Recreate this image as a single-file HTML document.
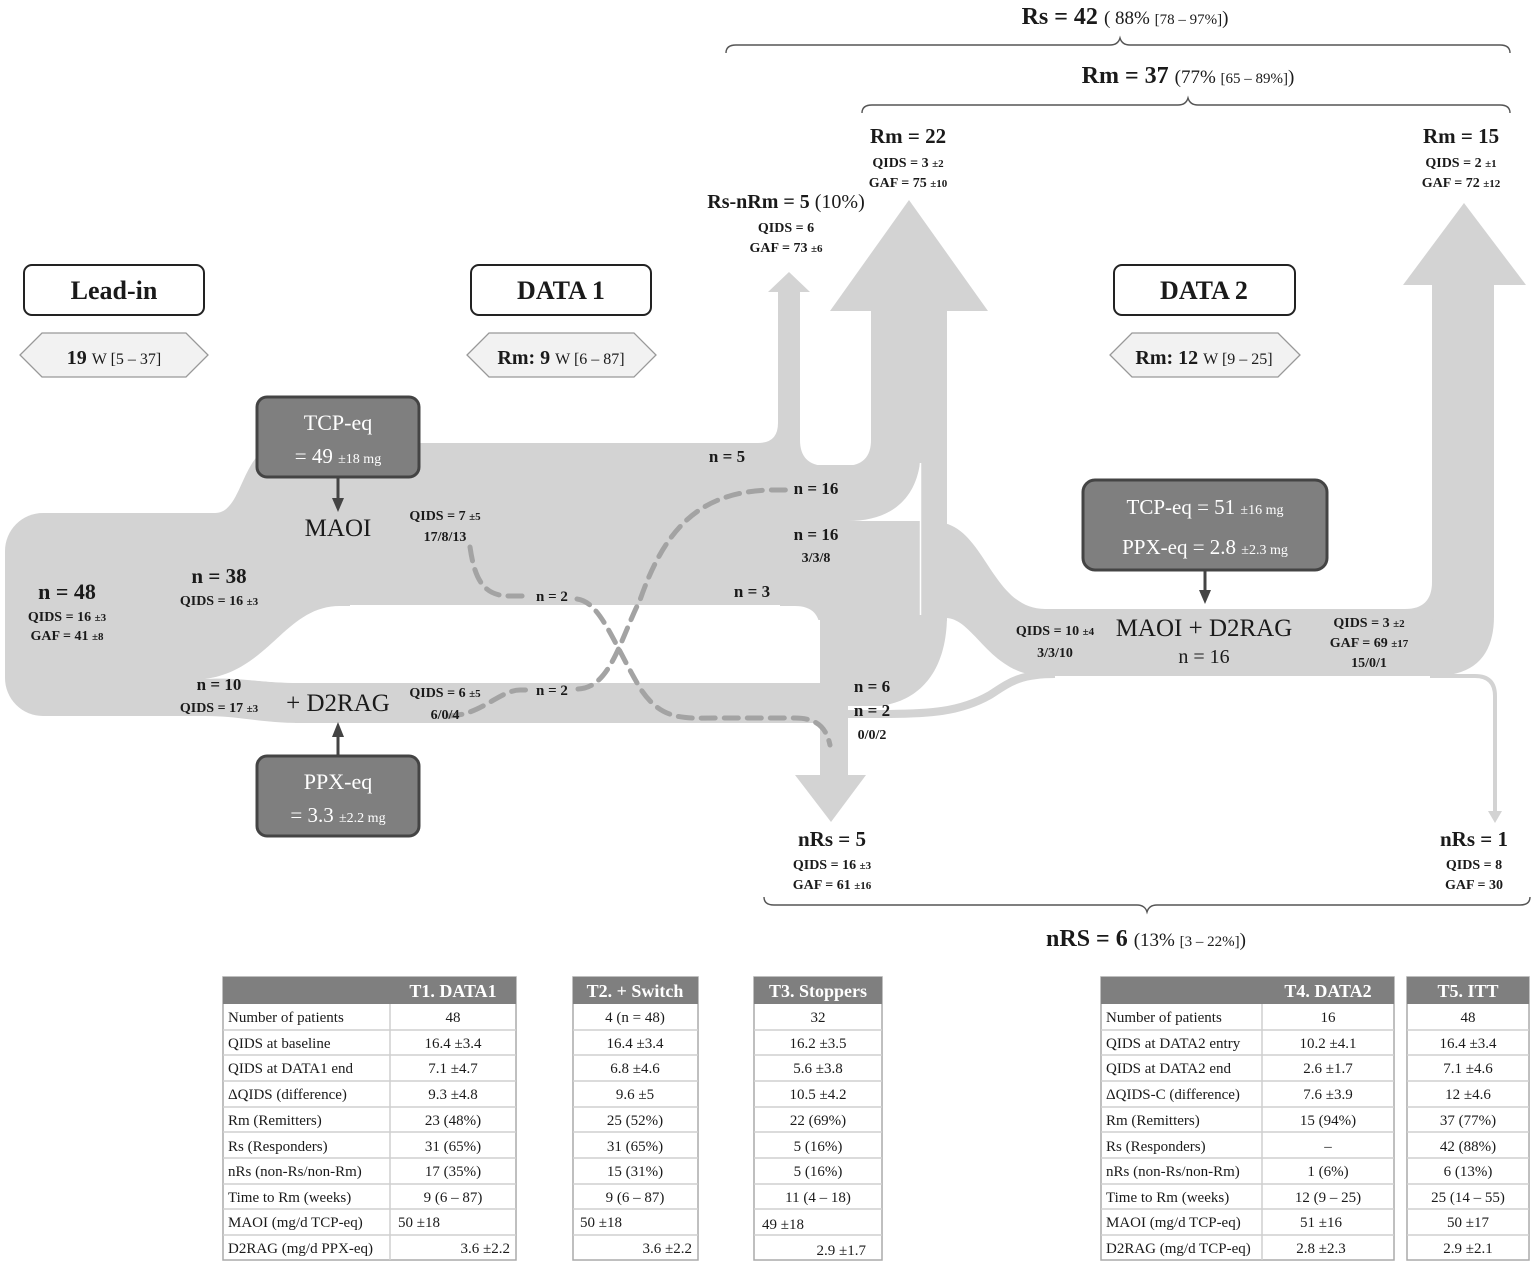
<!DOCTYPE html>
<html><head><meta charset="utf-8">
<style>
html,body{margin:0;padding:0;background:#fff}
svg{display:block}
text{font-family:"Liberation Serif",serif;fill:#1a1a1a}
.b{font-weight:bold}
.q{font-size:14px;text-anchor:middle}
.n{font-size:17px;font-weight:bold;text-anchor:middle}
.h{font-size:21px;font-weight:bold;text-anchor:middle}
.s{font-size:11px}
.t{font-size:15px}
.tc{font-size:15px;text-anchor:middle}
.th{font-size:18px;font-weight:bold;fill:#fff;text-anchor:middle}
.w{fill:#fff;text-anchor:middle}
</style></head>
<body>
<svg width="1535" height="1266" viewBox="0 0 1535 1266" xmlns="http://www.w3.org/2000/svg">
<g fill="#d3d3d3">
 <rect x="5" y="513" width="240" height="203" rx="38"/>
 <rect x="150" y="540" width="200" height="140"/>
 <path d="M150,513 L215,513 C245,513 240,443 285,443 L285,560 L150,560 Z"/>
 <rect x="270" y="443" width="530" height="162"/>
 <path d="M205,716 L205,677 C240,677 260,683 300,683 L300,723 C260,723 240,716 205,716 Z"/>
 <rect x="295" y="683" width="553" height="40"/>
 <path d="M758,443 Q778,443 778,423 V445 Z"/>
 <rect x="778" y="292" width="22" height="170"/>
 <polygon points="768,292 810,292 789,272"/>
 <rect x="800" y="465" width="71" height="140"/>
 <path d="M800,440 V466 H825 Q800,465 800,440 Z"/>
 <path d="M871,440 V466 H846 Q871,465 871,440 Z"/>
 <rect x="871" y="311" width="76" height="310"/>
 <polygon points="830,311 988,311 909,200"/>
 <path d="M790,581 H823 Q848,581 848,606 V620 H790 Z"/>
 <rect x="820" y="600" width="28" height="176"/>
 <polygon points="795,775 866,775 831,822"/>
 <path d="M848,578 H947 V615 C947,665 925,700 880,706 L848,706 Z"/>
 <path d="M780,522 H935 C985,522 990,609 1045,609 H1440 V676 H1045 C990,676 975,620 947,618 H780 Z"/>
 <path d="M1432,609 V285 H1494 V616 Q1494,676 1434,676 Z"/>
 <path d="M1405,609 Q1432,609 1432,582 V609 Z"/>
 <polygon points="1403,285 1526,285 1464,203"/>
</g>
<!-- hole -->
<path d="M340,606 H795 Q820,606 820,631 V683 H300 C260,683 240,677 205,679 C270,670 285,606 340,606 Z" fill="#fff"/>
<path d="M848,521 C890,521 915,500 920,463 L921,521 Z" fill="#fff"/>
<line x1="920.5" y1="463" x2="920.5" y2="615" stroke="#fff" stroke-width="1.5"/>
<!-- thin flows -->
<path d="M848,714 H880 C930,714 960,712 990,695 C1010,682 1020,674 1055,674" fill="none" stroke="#d3d3d3" stroke-width="8"/>
<path d="M1430,676 H1475 Q1495,676 1495,696 V812" fill="none" stroke="#d3d3d3" stroke-width="4"/>
<polygon points="1488,811 1502,811 1495,823" fill="#d3d3d3"/>
<!-- dashed -->
<g fill="none" stroke="#a3a3a3" stroke-width="5" stroke-dasharray="14 9" stroke-linecap="round">
 <path d="M470,547 C475,582 485,596 510,596 L528,596"/>
 <path d="M577,599 C600,602 612,640 640,688 C662,722 685,718 720,718 L795,718 C815,718 826,726 830,745"/>
 <path d="M448,716 C480,716 500,690 520,690 L530,690"/>
 <path d="M578,689 C610,688 620,640 640,600 C665,528 700,492 770,490 L786,490"/>
</g>
<!-- braces -->
<g fill="none" stroke="#555" stroke-width="1.4">
 <path d="M726,53 Q726,45 736,45 H1110 Q1118,45 1120,38 Q1122,45 1130,45 H1500 Q1510,45 1510,53"/>
 <path d="M862,113 Q862,105 872,105 H1178 Q1186,105 1188,98 Q1190,105 1198,105 H1500 Q1510,105 1510,113"/>
 <path d="M764,897 Q764,905 774,905 H1137 Q1145,905 1147,912 Q1149,905 1157,905 H1520 Q1530,905 1530,897"/>
</g>
<!-- phase boxes -->
<g fill="#fff" stroke="#222" stroke-width="2">
 <rect x="24" y="265" width="180" height="50" rx="8"/>
 <rect x="471" y="265" width="180" height="50" rx="8"/>
 <rect x="1114" y="265" width="181" height="50" rx="8"/>
</g>
<text x="114" y="299" class="h" style="font-size:26px">Lead-in</text>
<text x="561" y="299" class="h" style="font-size:26px">DATA 1</text>
<text x="1204" y="299" class="h" style="font-size:26px">DATA 2</text>
<g fill="#f2f2f2" stroke="#999" stroke-width="1.3">
 <polygon points="42,333 186,333 208,355 186,377 42,377 20,355"/>
 <polygon points="489,333 634,333 656,355 634,377 489,377 467,355"/>
 <polygon points="1132,333 1278,333 1300,355 1278,377 1132,377 1110,355"/>
</g>
<text x="114" y="364" class="h" style="font-size:20px">19 <tspan style="font-size:16px;font-weight:normal">W [5 – 37]</tspan></text>
<text x="561" y="364" class="h" style="font-size:20px">Rm: 9 <tspan style="font-size:16px;font-weight:normal">W [6 – 87]</tspan></text>
<text x="1204" y="364" class="h" style="font-size:20px">Rm: 12 <tspan style="font-size:16px;font-weight:normal">W [9 – 25]</tspan></text>
<!-- dose boxes -->
<g fill="#7f7f7f" stroke="#444" stroke-width="3">
 <rect x="257" y="397" width="162" height="80" rx="10"/>
 <rect x="257" y="756" width="162" height="80" rx="10"/>
 <rect x="1083" y="480" width="244" height="90" rx="12"/>
</g>
<text x="338" y="430" class="w" style="font-size:22px">TCP-eq</text>
<text x="338" y="463" class="w" style="font-size:21px">= 49 <tspan style="font-size:14px">±18 mg</tspan></text>
<text x="338" y="789" class="w" style="font-size:22px">PPX-eq</text>
<text x="338" y="822" class="w" style="font-size:21px">= 3.3 <tspan style="font-size:14px">±2.2 mg</tspan></text>
<text x="1205" y="514" class="w" style="font-size:21px">TCP-eq = 51 <tspan style="font-size:14px">±16 mg</tspan></text>
<text x="1205" y="554" class="w" style="font-size:21px">PPX-eq = 2.8 <tspan style="font-size:14px">±2.3 mg</tspan></text>
<g stroke="#444" stroke-width="3" fill="#444">
 <line x1="338" y1="478" x2="338" y2="500"/><polygon points="332,498 344,498 338,512" stroke="none"/>
 <line x1="338" y1="755" x2="338" y2="735"/><polygon points="332,737 344,737 338,722" stroke="none"/>
 <line x1="1205" y1="571" x2="1205" y2="592"/><polygon points="1199,590 1211,590 1205,604" stroke="none"/>
</g>
<text x="338" y="536" class="h" style="font-size:25px;font-weight:normal">MAOI</text>
<text x="338" y="711" class="h" style="font-size:25px;font-weight:normal">+ D2RAG</text>
<text x="1204" y="636" class="h" style="font-size:25px;font-weight:normal">MAOI + D2RAG</text>
<text x="1204" y="663" class="n" style="font-size:20px;font-weight:normal">n = 16</text>
<!-- headline labels -->
<text x="1125" y="24" class="h" style="font-size:24px">Rs = 42 <tspan style="font-size:19px;font-weight:normal">( 88% <tspan style="font-size:15px">[78 – 97%]</tspan>)</tspan></text>
<text x="1188" y="83" class="h" style="font-size:24px">Rm = 37 <tspan style="font-size:19px;font-weight:normal">(77% <tspan style="font-size:15px">[65 – 89%]</tspan>)</tspan></text>
<text x="1146" y="946" class="h" style="font-size:24px">nRS = 6 <tspan style="font-size:19px;font-weight:normal">(13% <tspan style="font-size:15px">[3 – 22%]</tspan>)</tspan></text>
<text x="908" y="143" class="h">Rm = 22</text>
<text x="908" y="167" class="q b">QIDS = 3 <tspan class="s">±2</tspan></text>
<text x="908" y="187" class="q b">GAF = 75 <tspan class="s">±10</tspan></text>
<text x="1461" y="143" class="h">Rm = 15</text>
<text x="1461" y="167" class="q b">QIDS = 2 <tspan class="s">±1</tspan></text>
<text x="1461" y="187" class="q b">GAF = 72 <tspan class="s">±12</tspan></text>
<text x="786" y="208" class="h" style="font-size:20px">Rs-nRm = 5 <tspan style="font-weight:normal">(10%)</tspan></text>
<text x="786" y="232" class="q b">QIDS = 6</text>
<text x="786" y="252" class="q b">GAF = 73 <tspan class="s">±6</tspan></text>
<text x="832" y="846" class="h">nRs = 5</text>
<text x="832" y="869" class="q b">QIDS = 16 <tspan class="s">±3</tspan></text>
<text x="832" y="889" class="q b">GAF = 61 <tspan class="s">±16</tspan></text>
<text x="1474" y="846" class="h">nRs = 1</text>
<text x="1474" y="869" class="q b">QIDS = 8</text>
<text x="1474" y="889" class="q b">GAF = 30</text>
<!-- flow labels -->
<text x="67" y="599" class="h" style="font-size:22px">n = 48</text>
<text x="67" y="621" class="q b">QIDS = 16 <tspan class="s">±3</tspan></text>
<text x="67" y="640" class="q b">GAF = 41 <tspan class="s">±8</tspan></text>
<text x="219" y="583" class="h" style="font-size:21px">n = 38</text>
<text x="219" y="605" class="q b">QIDS = 16 <tspan class="s">±3</tspan></text>
<text x="219" y="690" class="n">n = 10</text>
<text x="219" y="712" class="q b">QIDS = 17 <tspan class="s">±3</tspan></text>
<text x="445" y="520" class="q b">QIDS = 7 <tspan class="s">±5</tspan></text>
<text x="445" y="541" class="q b">17/8/13</text>
<text x="445" y="697" class="q b">QIDS = 6 <tspan class="s">±5</tspan></text>
<text x="445" y="719" class="q b">6/0/4</text>
<text x="552" y="601" class="n" style="font-size:15px">n = 2</text>
<text x="552" y="695" class="n" style="font-size:15px">n = 2</text>
<text x="727" y="462" class="n">n = 5</text>
<text x="816" y="494" class="n">n = 16</text>
<text x="816" y="540" class="n">n = 16</text>
<text x="816" y="562" class="q b">3/3/8</text>
<text x="752" y="597" class="n">n = 3</text>
<text x="872" y="692" class="n">n = 6</text>
<text x="872" y="716" class="n">n = 2</text>
<text x="872" y="739" class="q b">0/0/2</text>
<text x="1055" y="635" class="q b">QIDS = 10 <tspan class="s">±4</tspan></text>
<text x="1055" y="657" class="q b">3/3/10</text>
<text x="1369" y="627" class="q b">QIDS = 3 <tspan class="s">±2</tspan></text>
<text x="1369" y="647" class="q b">GAF = 69 <tspan class="s">±17</tspan></text>
<text x="1369" y="667" class="q b">15/0/1</text>

<!-- TABLES -->
<g stroke="#aaa" stroke-width="1.5" fill="#fff">
 <rect x="223" y="977" width="293" height="283"/>
 <rect x="573" y="977" width="125" height="283"/>
 <rect x="754" y="977" width="128" height="283"/>
 <rect x="1101" y="977" width="293" height="283"/>
 <rect x="1407" y="977" width="122" height="283"/>
</g>
<g fill="#7f7f7f">
 <rect x="223" y="977" width="293" height="27"/>
 <rect x="573" y="977" width="125" height="27"/>
 <rect x="754" y="977" width="128" height="27"/>
 <rect x="1101" y="977" width="293" height="27"/>
 <rect x="1407" y="977" width="122" height="27"/>
</g>
<g stroke="#cfcfcf" stroke-width="1.5">
 <line x1="390" y1="1004" x2="390" y2="1260"/>
 <line x1="1262" y1="1004" x2="1262" y2="1260"/>
 <path d="M223,1030H516M223,1055H516M223,1081H516M223,1107H516M223,1132H516M223,1158H516M223,1184H516M223,1209H516M223,1235H516"/>
 <path d="M573,1030H698M573,1055H698M573,1081H698M573,1107H698M573,1132H698M573,1158H698M573,1184H698M573,1209H698M573,1235H698"/>
 <path d="M754,1030H882M754,1055H882M754,1081H882M754,1107H882M754,1132H882M754,1158H882M754,1184H882M754,1209H882M754,1235H882"/>
 <path d="M1101,1030H1394M1101,1055H1394M1101,1081H1394M1101,1107H1394M1101,1132H1394M1101,1158H1394M1101,1184H1394M1101,1209H1394M1101,1235H1394"/>
 <path d="M1407,1030H1529M1407,1055H1529M1407,1081H1529M1407,1107H1529M1407,1132H1529M1407,1158H1529M1407,1184H1529M1407,1209H1529M1407,1235H1529"/>
</g>
<text x="453" y="997" class="th">T1. DATA1</text>
<text x="635" y="997" class="th">T2. + Switch</text>
<text x="818" y="997" class="th">T3. Stoppers</text>
<text x="1328" y="997" class="th">T4. DATA2</text>
<text x="1468" y="997" class="th">T5. ITT</text>

<g class="t">
<text x="228" y="1022" class="t">Number of patients</text>
<text x="228" y="1048" class="t">QIDS at baseline</text>
<text x="228" y="1073" class="t">QIDS at DATA1 end</text>
<text x="228" y="1099" class="t">ΔQIDS (difference)</text>
<text x="228" y="1125" class="t">Rm (Remitters)</text>
<text x="228" y="1151" class="t">Rs (Responders)</text>
<text x="228" y="1176" class="t">nRs (non-Rs/non-Rm)</text>
<text x="228" y="1202" class="t">Time to Rm (weeks)</text>
<text x="228" y="1227" class="t">MAOI (mg/d TCP-eq)</text>
<text x="228" y="1253" class="t">D2RAG (mg/d PPX-eq)</text>

<text x="1106" y="1022" class="t">Number of patients</text>
<text x="1106" y="1048" class="t">QIDS at DATA2 entry</text>
<text x="1106" y="1073" class="t">QIDS at DATA2 end</text>
<text x="1106" y="1099" class="t">ΔQIDS-C (difference)</text>
<text x="1106" y="1125" class="t">Rm (Remitters)</text>
<text x="1106" y="1151" class="t">Rs (Responders)</text>
<text x="1106" y="1176" class="t">nRs (non-Rs/non-Rm)</text>
<text x="1106" y="1202" class="t">Time to Rm (weeks)</text>
<text x="1106" y="1227" class="t">MAOI (mg/d TCP-eq)</text>
<text x="1106" y="1253" class="t">D2RAG (mg/d TCP-eq)</text>
</g>

<!-- T1 -->
<text x="453" y="1022" class="tc">48</text>
<text x="453" y="1048" class="tc">16.4 ±3.4</text>
<text x="453" y="1073" class="tc">7.1 ±4.7</text>
<text x="453" y="1099" class="tc">9.3 ±4.8</text>
<text x="453" y="1125" class="tc">23 (48%)</text>
<text x="453" y="1151" class="tc">31 (65%)</text>
<text x="453" y="1176" class="tc">17 (35%)</text>
<text x="453" y="1202" class="tc">9 (6 – 87)</text>
<text x="398" y="1227" class="t">50 ±18</text>
<text x="510" y="1253" class="t" text-anchor="end">3.6 ±2.2</text>
<!-- T2 -->
<text x="635" y="1022" class="tc">4 (n = 48)</text>
<text x="635" y="1048" class="tc">16.4 ±3.4</text>
<text x="635" y="1073" class="tc">6.8 ±4.6</text>
<text x="635" y="1099" class="tc">9.6 ±5</text>
<text x="635" y="1125" class="tc">25 (52%)</text>
<text x="635" y="1151" class="tc">31 (65%)</text>
<text x="635" y="1176" class="tc">15 (31%)</text>
<text x="635" y="1202" class="tc">9 (6 – 87)</text>
<text x="580" y="1227" class="t">50 ±18</text>
<text x="692" y="1253" class="t" text-anchor="end">3.6 ±2.2</text>
<!-- T3 -->
<text x="818" y="1022" class="tc">32</text>
<text x="818" y="1048" class="tc">16.2 ±3.5</text>
<text x="818" y="1073" class="tc">5.6 ±3.8</text>
<text x="818" y="1099" class="tc">10.5 ±4.2</text>
<text x="818" y="1125" class="tc">22 (69%)</text>
<text x="818" y="1151" class="tc">5 (16%)</text>
<text x="818" y="1176" class="tc">5 (16%)</text>
<text x="818" y="1202" class="tc">11 (4 – 18)</text>
<text x="762" y="1229" class="t">49 ±18</text>
<text x="866" y="1255" class="t" text-anchor="end">2.9 ±1.7</text>
<!-- T4 -->
<text x="1328" y="1022" class="tc">16</text>
<text x="1328" y="1048" class="tc">10.2 ±4.1</text>
<text x="1328" y="1073" class="tc">2.6 ±1.7</text>
<text x="1328" y="1099" class="tc">7.6 ±3.9</text>
<text x="1328" y="1125" class="tc">15 (94%)</text>
<text x="1328" y="1151" class="tc">–</text>
<text x="1328" y="1176" class="tc">1 (6%)</text>
<text x="1328" y="1202" class="tc">12 (9 – 25)</text>
<text x="1321" y="1227" class="tc">51 ±16</text>
<text x="1321" y="1253" class="tc">2.8 ±2.3</text>
<!-- T5 -->
<text x="1468" y="1022" class="tc">48</text>
<text x="1468" y="1048" class="tc">16.4 ±3.4</text>
<text x="1468" y="1073" class="tc">7.1 ±4.6</text>
<text x="1468" y="1099" class="tc">12 ±4.6</text>
<text x="1468" y="1125" class="tc">37 (77%)</text>
<text x="1468" y="1151" class="tc">42 (88%)</text>
<text x="1468" y="1176" class="tc">6 (13%)</text>
<text x="1468" y="1202" class="tc">25 (14 – 55)</text>
<text x="1468" y="1227" class="tc">50 ±17</text>
<text x="1468" y="1253" class="tc">2.9 ±2.1</text>
</svg>
</body></html>
